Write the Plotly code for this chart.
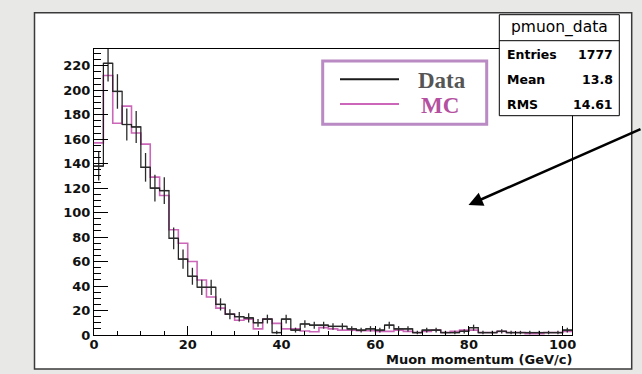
import numpy as np
import plotly.graph_objects as go

# ---------------- data ----------------
bin_width = 2
bin_edges = list(range(0, 104, 2))  # 0..102, 51 bins
data_counts = [138, 222, 199, 172, 170, 137, 120, 118, 79, 62, 48, 39, 39, 25, 17, 15, 14,
               10, 13, 2, 13, 4, 9, 8, 8, 7, 7, 5, 4, 5, 4, 8, 5, 5, 2, 4, 4, 2, 2, 3, 6,
               2, 2, 3, 2, 2, 2, 2, 2, 2, 4]
mc_counts = [157, 212, 173, 187, 165, 156, 129, 114, 86, 75, 60, 45, 31, 22, 17, 12, 13,
             5, 13, 9.5, 5, 5, 3.3, 2.6, 6, 5, 4, 4, 3.5, 3.5, 3, 3, 4, 3, 2, 3, 4, 2, 3, 4, 4,
             2, 2, 3, 2, 2, 1, 1, 2, 2, 3]
x_ticks = [0, 20, 40, 60, 80, 100]
y_ticks = list(range(0, 240, 20))
stats_title = "pmuon_data"
stats_rows = [("Entries", "1777"), ("Mean", "13.8"), ("RMS", "14.61")]
legend_labels = ["Data", "MC"]
x_title = "Muon momentum (GeV/c)"

# ---------------- geometry helpers ----------------
W, H = 642, 374
L, R, T, B = 94, 70, 49, 39
PW, PH = W - L - R, H - T - B


def px(x):
    return (x - L) / PW


def py(y):
    return (H - B - y) / PH


BLACK = "#1a1a1a"
PINK = "#cc66b8"
MC_TEXT = "#b4509f"
LEG_BORDER = "#b98ac4"

edges = np.array(bin_edges, dtype=float)
d = np.array(data_counts, dtype=float)
m = np.array(mc_counts, dtype=float)
centers = (edges[:-1] + edges[1:]) / 2

fig = go.Figure()

# MC step histogram
fig.add_trace(go.Scatter(x=edges, y=np.append(m, m[-1]), mode="lines",
                         line=dict(color=PINK, width=1.6, shape="hv"),
                         hoverinfo="skip", showlegend=False))
# Data step histogram
fig.add_trace(go.Scatter(x=edges, y=np.append(d, d[-1]), mode="lines",
                         line=dict(color=BLACK, width=1.2, shape="hv"),
                         hoverinfo="skip", showlegend=False))
# Data error crosses
ex, ey = [], []
for lo, hi, c, v in zip(edges[:-1], edges[1:], centers, d):
    if v <= 0:
        continue
    e = np.sqrt(v)
    ex += [c, c, None, lo, hi, None]
    ey += [v - e, v + e, None, v, v, None]
fig.add_trace(go.Scatter(x=ex, y=ey, mode="lines",
                         line=dict(color="#2a2a2a", width=1.3),
                         hoverinfo="skip", showlegend=False, connectgaps=False))

tickfont = dict(family="DejaVu Sans", size=13, color="#111", weight="bold")
fig.update_xaxes(range=[0, 102], tickvals=x_ticks, ticks="inside", ticklen=9,
                 tickcolor="black", tickwidth=1, ticklabelstandoff=-3,
                 minor=dict(dtick=5, ticks="inside", ticklen=4.5, tickcolor="black"),
                 showgrid=False, zeroline=False, showline=True, mirror=True,
                 linecolor="black", linewidth=1, tickfont=tickfont)
fig.update_yaxes(range=[0, 233.7], tickvals=y_ticks, ticks="inside", ticklen=14,
                 tickcolor="black", tickwidth=1,
                 minor=dict(dtick=5, ticks="inside", ticklen=7, tickcolor="black"),
                 showgrid=False, zeroline=False, showline=True, mirror=True,
                 linecolor="black", linewidth=1, tickfont=tickfont)

shapes = []
# outer canvas frame
shapes.append(dict(type="rect", xref="paper", yref="paper",
                   x0=px(34.5), x1=px(631.7), y0=py(369), y1=py(12.7),
                   fillcolor="white", line=dict(color="#3a3a3a", width=1.5), layer="below"))
# legend box
shapes.append(dict(type="rect", xref="paper", yref="paper",
                   x0=px(322.7), x1=px(486.7), y0=py(124.3), y1=py(61),
                   fillcolor="white", line=dict(color=LEG_BORDER, width=3)))
shapes.append(dict(type="line", xref="paper", yref="paper",
                   x0=px(340), x1=px(399), y0=py(79.3), y1=py(79.3),
                   line=dict(color=BLACK, width=2)))
shapes.append(dict(type="line", xref="paper", yref="paper",
                   x0=px(340), x1=px(399), y0=py(104), y1=py(104),
                   line=dict(color=PINK, width=2)))
# stats box
shapes.append(dict(type="rect", xref="paper", yref="paper",
                   x0=px(499.3), x1=px(619.3), y0=py(115.7), y1=py(14.7),
                   fillcolor="white", line=dict(color="black", width=1)))
shapes.append(dict(type="line", xref="paper", yref="paper",
                   x0=px(499.3), x1=px(619.3), y0=py(40.7), y1=py(40.7),
                   line=dict(color="black", width=1)))

ann = []
ann.append(dict(xref="paper", yref="paper", x=px(416), y=py(80), xanchor="left",
                yanchor="middle", text=legend_labels[0], showarrow=False,
                font=dict(family="Liberation Serif", size=23, color="#555555", weight="bold")))
ann.append(dict(xref="paper", yref="paper", x=px(419), y=py(105), xanchor="left",
                yanchor="middle", text=legend_labels[1], showarrow=False,
                font=dict(family="Liberation Serif", size=23, color=MC_TEXT, weight="bold")))
ann.append(dict(xref="paper", yref="paper", x=px(559.3), y=py(27.5), xanchor="center",
                yanchor="middle", text=stats_title, showarrow=False,
                font=dict(family="DejaVu Sans", size=15.5, color="black")))
for i, (k, v) in enumerate(stats_rows):
    yy = 54 + 25 * i
    ann.append(dict(xref="paper", yref="paper", x=px(505), y=py(yy), xanchor="left",
                    yanchor="middle", text=k, showarrow=False,
                    font=dict(family="DejaVu Sans", size=12.5, color="black", weight="bold")))
    ann.append(dict(xref="paper", yref="paper", x=px(614.5), y=py(yy), xanchor="right",
                    yanchor="middle", text=v, showarrow=False,
                    font=dict(family="DejaVu Sans", size=12.5, color="black", weight="bold")))
# axis title
ann.append(dict(xref="paper", yref="paper", x=px(574), y=py(359), xanchor="right",
                yanchor="middle", text=x_title, showarrow=False,
                font=dict(family="DejaVu Sans", size=13, color="#111", weight="bold")))
# arrow
ann.append(dict(xref="paper", yref="paper", x=px(468.5), y=py(205), text="",
                showarrow=True, axref="pixel", ayref="pixel", ax=181.5, ay=-76.5,
                arrowhead=2, arrowsize=1.1, arrowwidth=2.6, arrowcolor="black", standoff=0))

fig.update_layout(width=W, height=H, margin=dict(l=L, r=R, t=T, b=B),
                  paper_bgcolor="#e8e8e6", plot_bgcolor="rgba(0,0,0,0)",
                  shapes=shapes, annotations=ann, showlegend=False)

fig.write_html("out.html")
